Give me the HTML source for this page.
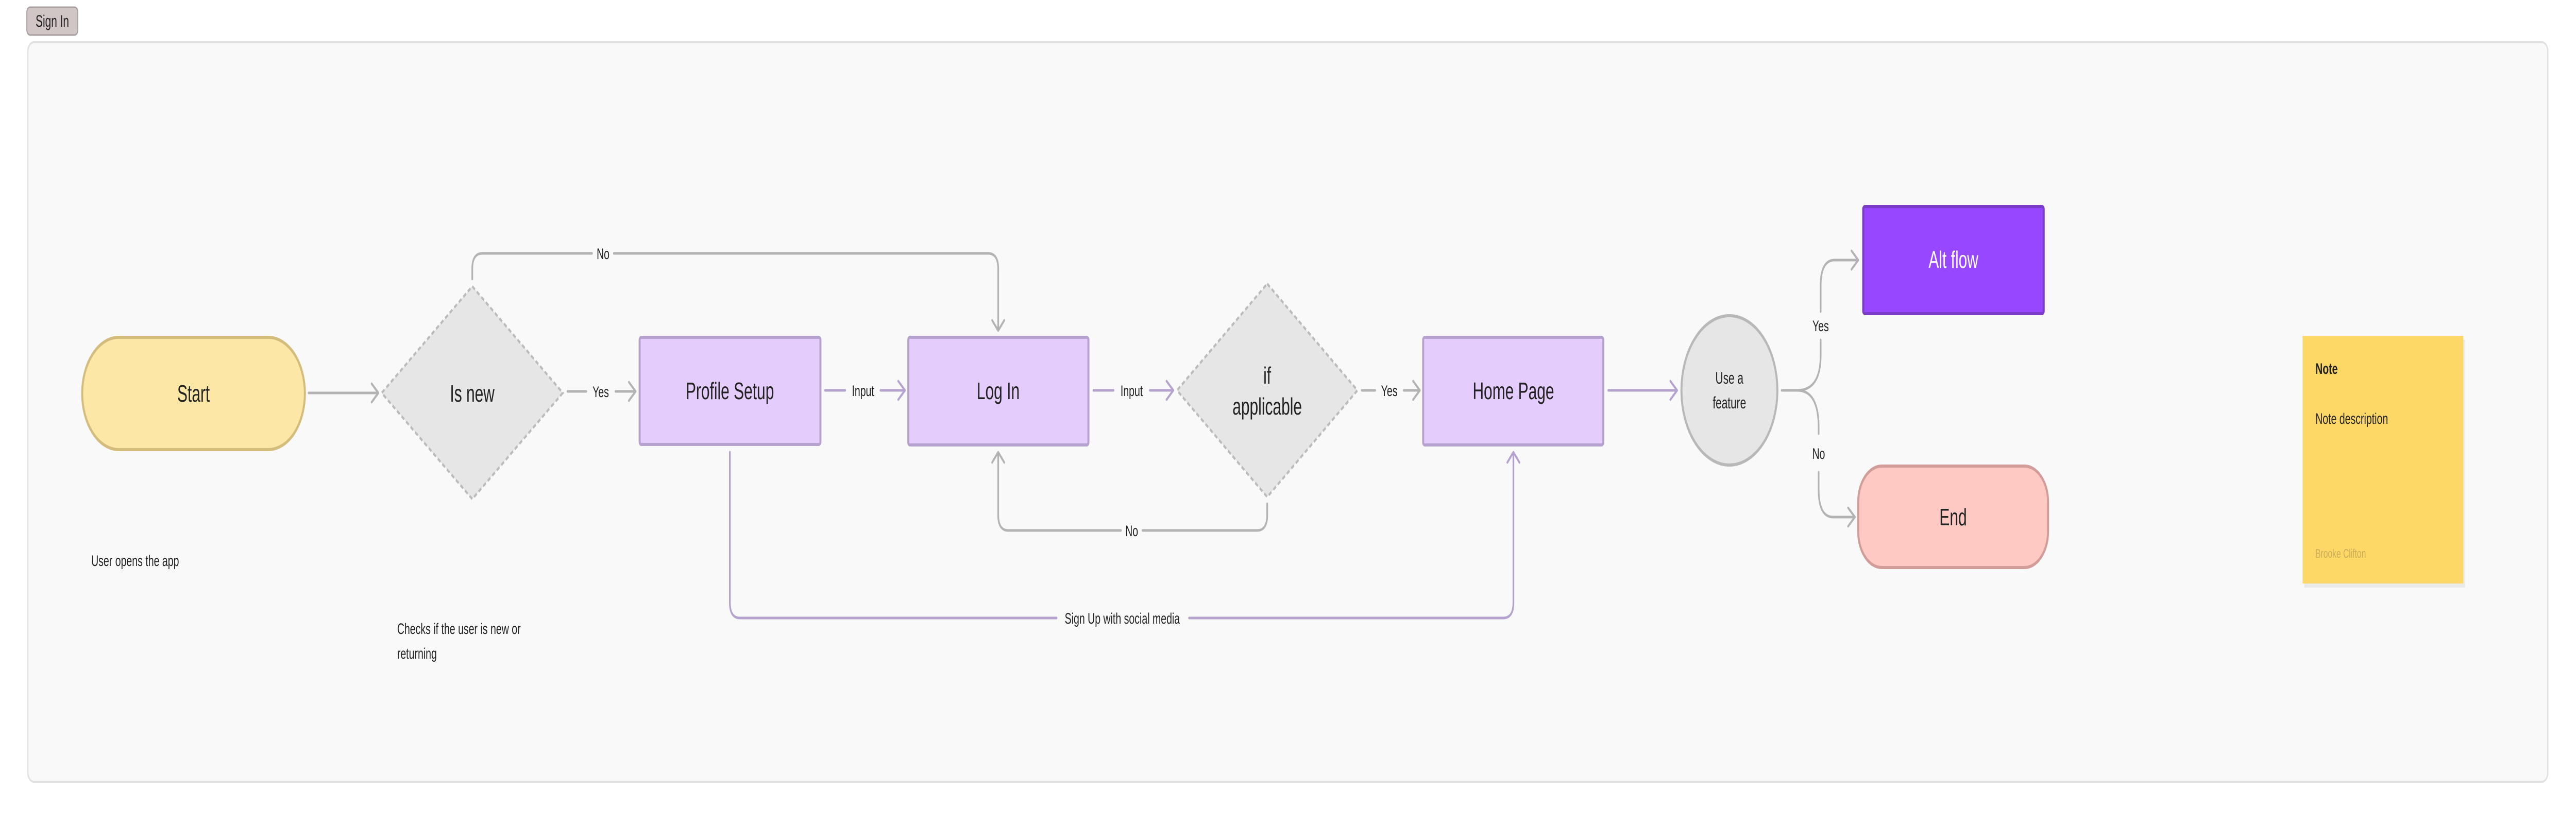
<!DOCTYPE html>
<html><head><meta charset="utf-8"><style>
html,body{margin:0;padding:0;background:#fff;width:100vw;height:100vh;overflow:hidden;}
body{font-family:"Liberation Sans",sans-serif;}
svg{display:block;width:100vw;height:100vh;}
</style></head><body>
<svg viewBox="0 0 7680 1600" preserveAspectRatio="none" xmlns="http://www.w3.org/2000/svg" font-family="Liberation Sans, sans-serif">
<rect x="0" y="0" width="7680" height="1600" fill="#ffffff"/>
<rect x="80" y="14" width="152" height="54" rx="10" fill="#d1c6c6" stroke="#aa9f9f" stroke-width="3"/>
<text x="156" y="52" font-size="32" text-anchor="middle" fill="#222">Sign In</text>
<rect x="83" y="82" width="7513" height="1436" rx="18" fill="#f9f9f9" stroke="#e2e2e2" stroke-width="4"/>

<g fill="none" stroke-width="5" stroke-linecap="round" stroke-linejoin="round">
<path d="M920 763 H1125" stroke="#b3b3b3"/>
<path d="M1108 745 L1128 763 L1108 781" stroke="#b3b3b3"/>
<path d="M1692 760 H1748 M1835 760 H1892" stroke="#b3b3b3"/>
<path d="M1875 742 L1895 760 L1875 778" stroke="#b3b3b3"/>
<path d="M2460 758 H2520 M2625 758 H2695" stroke="#b5a2cf"/>
<path d="M2678 740 L2698 758 L2678 776" stroke="#b5a2cf"/>
<path d="M3260 758 H3320 M3428 758 H3496" stroke="#b5a2cf"/>
<path d="M3478 740 L3498 758 L3478 776" stroke="#b5a2cf"/>
<path d="M4060 758 H4100 M4185 758 H4230" stroke="#b3b3b3"/>
<path d="M4213 740 L4233 758 L4213 776" stroke="#b3b3b3"/>
<path d="M4795 758 H4998" stroke="#b5a2cf"/>
<path d="M4980 740 L5000 758 L4980 776" stroke="#b5a2cf"/>
<path d="M1408 542 V522 Q1408 492 1438 492 H1765 M1830 492 H2946 Q2976 492 2976 522 V640" stroke="#b3b3b3"/>
<path d="M2958 622 L2976 642 L2994 622" stroke="#b3b3b3"/>
<path d="M3778 978 V1000 Q3778 1030 3748 1030 H3406 M3342 1030 H3006 Q2976 1030 2976 1000 V880" stroke="#b3b3b3"/>
<path d="M2958 898 L2976 878 L2994 898" stroke="#b3b3b3"/>
<path d="M2176 878 V1170 Q2176 1200 2206 1200 H3150 M3545 1200 H4482 Q4512 1200 4512 1170 V880" stroke="#b5a2cf"/>
<path d="M4494 898 L4512 878 L4530 898" stroke="#b5a2cf"/>
<path d="M5312 758 H5358 Q5428 758 5428 690 V660 M5428 605 V555 Q5428 505 5470 505 H5538" stroke="#b3b3b3"/>
<path d="M5520 487 L5540 505 L5520 523" stroke="#b3b3b3"/>
<path d="M5358 758 Q5422 758 5422 830 V842 M5422 917 V950 Q5422 1004 5465 1004 H5528" stroke="#b3b3b3"/>
<path d="M5510 986 L5530 1004 L5510 1022" stroke="#b3b3b3"/>
</g>

<rect x="245" y="655" width="664" height="218" rx="109" fill="#fde7a6" stroke="#d4bc7c" stroke-width="6"/>
<text x="577" y="780" font-size="46" text-anchor="middle" fill="#222">Start</text>
<polygon points="1408,556 1678,763 1408,969 1138,763" fill="#e6e6e6" stroke="#bbbbbb" stroke-width="5" stroke-dasharray="10 7"/>
<text x="1408" y="780" font-size="46" text-anchor="middle" fill="#222">Is new</text>
<rect x="1907" y="655" width="539" height="208" rx="5" fill="#e4ccfd" stroke="#b6a2cf" stroke-width="6"/>
<text x="2176" y="775" font-size="46" text-anchor="middle" fill="#222">Profile Setup</text>
<rect x="2708" y="655" width="537" height="209" rx="5" fill="#e4ccfd" stroke="#b6a2cf" stroke-width="6"/>
<text x="2976" y="775" font-size="46" text-anchor="middle" fill="#222">Log In</text>
<polygon points="3778,551 4047,758 3778,965 3509,758" fill="#e6e6e6" stroke="#bbbbbb" stroke-width="5" stroke-dasharray="10 7"/>
<text x="3778" y="745" font-size="46" text-anchor="middle" fill="#222">if</text>
<text x="3778" y="805" font-size="46" text-anchor="middle" fill="#222">applicable</text>
<rect x="4243" y="655" width="537" height="209" rx="5" fill="#e4ccfd" stroke="#b6a2cf" stroke-width="6"/>
<text x="4512" y="775" font-size="46" text-anchor="middle" fill="#222">Home Page</text>
<ellipse cx="5156" cy="758" rx="143" ry="145" fill="#e6e6e6" stroke="#b8b8b8" stroke-width="6"/>
<text x="5156" y="745" font-size="32" text-anchor="middle" fill="#222">Use a</text>
<text x="5156" y="793" font-size="32" text-anchor="middle" fill="#222">feature</text>
<rect x="5555" y="401" width="538" height="208" rx="5" fill="#9747ff" stroke="#7b3cc8" stroke-width="6"/>
<text x="5824" y="520" font-size="46" text-anchor="middle" fill="#ffffff">Alt flow</text>
<rect x="5540" y="905" width="566" height="197" rx="70" fill="#fec8c3" stroke="#d29c98" stroke-width="6"/>
<text x="5823" y="1020" font-size="46" text-anchor="middle" fill="#222">End</text>

<rect x="6870" y="660" width="479" height="481" fill="#000" opacity="0.06"/>
<rect x="6865" y="652" width="479" height="481" fill="#fdd866"/>
<text x="6903" y="726" font-size="30" font-weight="bold" fill="#222">Note</text>
<text x="6903" y="823" font-size="30" fill="#222">Note description</text>
<text x="6903" y="1083" font-size="24" fill="#c9ad55">Brooke Clifton</text>

<g font-size="30" fill="#222" text-anchor="middle">
<text x="1798" y="503">No</text>
<text x="1791" y="771">Yes</text>
<text x="2573" y="769">Input</text>
<text x="3374" y="769">Input</text>
<text x="4142" y="769">Yes</text>
<text x="3374" y="1041">No</text>
<text x="3346" y="1211">Sign Up with social media</text>
<text x="5428" y="643">Yes</text>
<text x="5422" y="891">No</text>
</g>
<g font-size="30" fill="#222">
<text x="272" y="1099">User opens the app</text>
<text x="1184" y="1231">Checks if the user is new or</text>
<text x="1184" y="1279">returning</text>
</g>
</svg>
</body></html>
